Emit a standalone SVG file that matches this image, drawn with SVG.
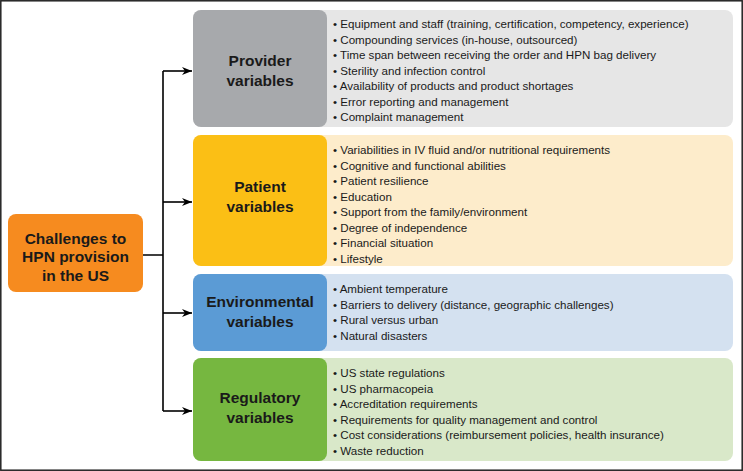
<svg xmlns="http://www.w3.org/2000/svg" width="743" height="471" viewBox="0 0 743 471">
<defs><marker id="ah" markerWidth="10" markerHeight="8" refX="10" refY="4" orient="auto" markerUnits="userSpaceOnUse"><path d="M0,0 L10,4 L0,8 L3,4 z" fill="#000"/></marker></defs>
<style>
.t{font-family:"Liberation Sans",Arial,sans-serif;font-weight:bold;font-size:15.5px;fill:#1a1a1a;text-anchor:middle}
.b{font-family:"Liberation Sans",Arial,sans-serif;font-size:11.6px;fill:#1a1a1a}
.c{fill:none;stroke:#000;stroke-width:1.6}
</style>
<rect x="0.8" y="0.8" width="741.4" height="469.4" fill="#fff" stroke="#222" stroke-width="1.5"/>
<g id="connectors">
<path class="c" d="M143,255 H163 M163,71 V411"/>
<path class="c" d="M163,71 H192" marker-end="url(#ah)"/>
<path class="c" d="M163,202 H192" marker-end="url(#ah)"/>
<path class="c" d="M163,313 H192" marker-end="url(#ah)"/>
<path class="c" d="M163,411 H192" marker-end="url(#ah)"/>
</g>
<g id="root">
<rect x="8" y="214" width="135" height="78" rx="8" fill="#f68b1f"/>
<text class="t" x="75.5" y="244">Challenges to</text><text class="t" x="75.5" y="262">HPN provision</text><text class="t" x="75.5" y="281">in the US</text>
</g>
<g id="provider">
<rect x="193" y="10" width="540" height="117" rx="8" fill="#e6e6e6"/>
<rect x="193" y="10" width="134" height="117" rx="8" fill="#a7a9ac"/>
<text class="t" x="260" y="66">Provider</text><text class="t" x="260" y="86">variables</text>
<g class="b">
<text x="333" y="28">•  Equipment and staff (training, certification, competency, experience)</text>
<text x="333" y="43.5">•  Compounding services (in-house, outsourced)</text>
<text x="333" y="59">•  Time span between receiving the order and HPN bag delivery</text>
<text x="333" y="74.5">•  Sterility and infection control</text>
<text x="333" y="90">•  Availability of products and product shortages</text>
<text x="333" y="105.5">•  Error reporting and management</text>
<text x="333" y="121">•  Complaint management</text>
</g></g>
<g id="patient">
<rect x="193" y="135" width="540" height="131" rx="8" fill="#fdeccb"/>
<rect x="193" y="135" width="134" height="131" rx="8" fill="#fbbf15"/>
<text class="t" x="260" y="192">Patient</text><text class="t" x="260" y="212">variables</text>
<g class="b">
<text x="333" y="154">•  Variabilities in IV fluid and/or nutritional requirements</text>
<text x="333" y="169.5">•  Cognitive and functional abilities</text>
<text x="333" y="185">•  Patient resilience</text>
<text x="333" y="200.5">•  Education</text>
<text x="333" y="216">•  Support from the family/environment</text>
<text x="333" y="231.5">•  Degree of independence</text>
<text x="333" y="247">•  Financial situation</text>
<text x="333" y="262.5">•  Lifestyle</text>
</g></g>
<g id="environmental">
<rect x="193" y="274" width="540" height="77" rx="8" fill="#d4e1f0"/>
<rect x="193" y="274" width="134" height="77" rx="8" fill="#5b9bd5"/>
<text class="t" x="260" y="307">Environmental</text><text class="t" x="260" y="327">variables</text>
<g class="b">
<text x="333" y="293">•  Ambient temperature</text>
<text x="333" y="308.5">•  Barriers to delivery (distance, geographic challenges)</text>
<text x="333" y="324">•  Rural versus urban</text>
<text x="333" y="339.5">•  Natural disasters</text>
</g></g>
<g id="regulatory">
<rect x="193" y="358" width="540" height="103" rx="8" fill="#d9e8c9"/>
<rect x="193" y="358" width="134" height="103" rx="8" fill="#76b740"/>
<text class="t" x="260" y="403">Regulatory</text><text class="t" x="260" y="423">variables</text>
<g class="b">
<text x="333" y="377">•  US state regulations</text>
<text x="333" y="392.5">•  US pharmacopeia</text>
<text x="333" y="408">•  Accreditation requirements</text>
<text x="333" y="423.5">•  Requirements for quality management and control</text>
<text x="333" y="439">•  Cost considerations (reimbursement policies, health insurance)</text>
<text x="333" y="454.5">•  Waste reduction</text>
</g></g>
</svg>
